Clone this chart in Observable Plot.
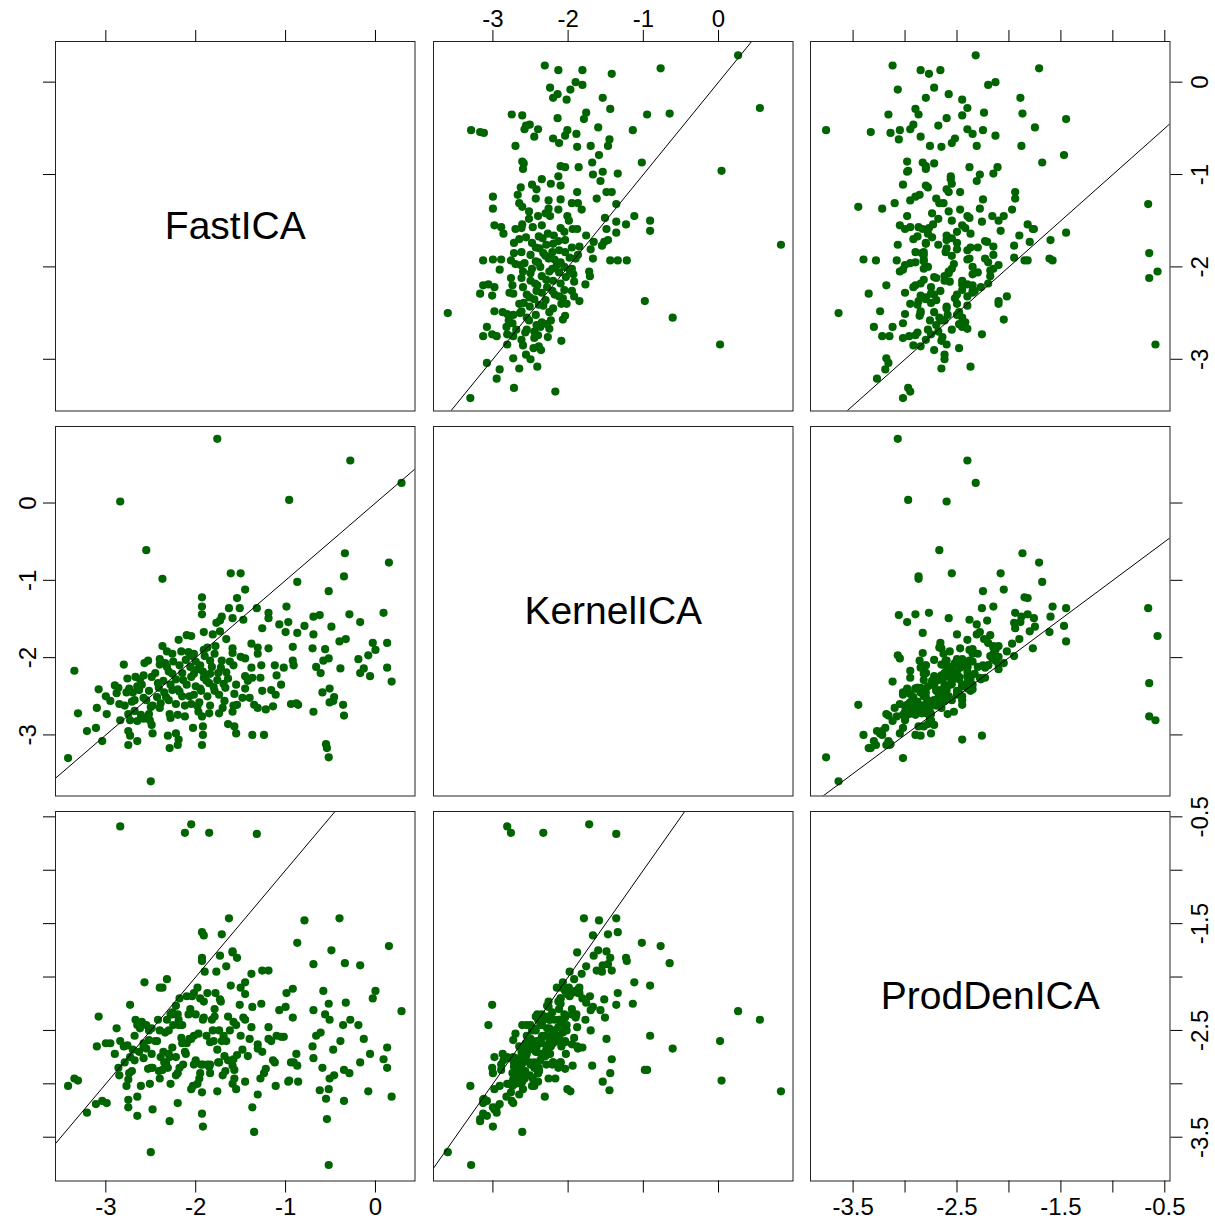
<!DOCTYPE html>
<html><head><meta charset="utf-8">
<script src="https://cdn.jsdelivr.net/npm/d3@7"></script>
<script src="https://cdn.jsdelivr.net/npm/@observablehq/plot@0.6"></script>
<style>
body{margin:0;background:#fff;}
#chart{position:relative;width:1215px;height:1225px;background:#fff;overflow:hidden;}
#chart svg{position:absolute;max-width:none;}
</style></head><body><div id="chart"></div>
<script>
const variables = ["FastICA", "KernelICA", "ProdDenICA"];

const FastICA = [
-1.76,-0.28,0.29,-2.84,-0.96,-2.55,-2.37,-0.34,0.15,-0.35,
-0.87,-0.55,-0.54,-0.52,-2.50,-3.42,-3.35,-3.31,-1.32,-2.05,
-1.85,-2.12,-2.84,-1.35,0.18,-3.21,-3.11,-3.04,-1.61,-1.50,
-1.45,-0.52,-1.93,-1.93,-1.93,-1.63,-1.51,-1.54,-1.71,-1.73,
-1.77,-1.59,-1.47,-1.19,-1.19,-0.99,-0.97,-1.07,-0.69,-0.62,
-0.29,-0.17,0.09,-0.49,-1.26,-1.91,-1.81,-1.73,-1.66,-2.19,
-2.10,-1.00,-0.87,-0.79,-0.69,-1.38,-1.31,-1.19,-0.92,-0.70,
-0.56,-0.40,-0.33,-0.03,0.13,0.00,-0.08,-2.37,-2.32,-2.16,
-2.08,-2.02,-1.91,-1.87,-1.78,-1.59,-1.59,-1.50,-1.45,-1.31,
-2.80,-2.57,-2.53,-2.40,-2.34,-2.18,-2.11,-2.04,-1.95,-1.84,
-1.79,-1.72,-1.66,-1.58,-1.38,-1.27,-1.12,-1.02,-0.92,-0.91,
-0.66,-0.58,-0.52,-0.61,-0.39,-0.19,-0.17,-0.13,-0.06,0.13,
-2.76,-2.67,-2.58,-2.49,-2.30,-2.26,-2.14,-2.02,-1.91,-1.84,
-1.76,-1.69,-1.67,-1.45,-1.42,-1.37,-1.28,-1.10,-1.05,-2.90,
-2.86,-3.08,-2.77,-2.65,-2.63,-2.52,-2.41,-2.26,-2.20,-2.00,
-1.94,-1.79,-1.57,-1.48,-1.26,-1.16,-1.11,-0.94,-0.88,-0.86,
-0.59,-0.51,-0.46,-0.47,-0.51,-0.36,-0.35,-0.69,-2.95,-2.71,
-2.99,-3.10,-2.75,-2.68,-2.61,-2.52,-2.50,-2.43,-2.39,-2.33,
-2.22,-2.29,-2.20,-2.07,-1.98,-1.97,-1.93,-1.85,-1.74,-1.70,
-1.59,-1.54,-1.31,-1.22,-1.14,-2.73,-2.65,-2.51,-2.58,-2.75,
-2.73,-2.75,-2.65,-2.48,-2.49,-2.31,-2.29,-2.22,-2.19,-2.20,
-2.03,-1.92,-1.92,-1.93,-1.64,-1.57,-1.55,-1.37,-1.24,-2.45,
-2.36,-2.28,-2.15,-2.10,-2.05,-1.98,-1.95,-1.88,-1.82,-2.25,
-2.00,-1.90,-1.75,-2.60,-2.70,-2.55,-2.40,-2.30,-2.15,-2.05,
-1.62,-1.55,-2.85,-3.00,-2.32,-2.22,-2.18,-2.12,-2.06,-2.02,
-1.96,-1.92,-1.87,-1.84,-1.80,-1.74,-1.71,-1.68,-1.64,-2.28,
-2.35,-2.42,-2.48,-2.58,-2.62,-2.68,-2.74,-2.79,-2.88,-2.26,
-2.40,-1.58,-1.45,-1.40
];

const KernelICA = [
0.83,0.55,0.26,0.02,0.04,-0.61,-0.98,-0.65,-0.77,-0.95,
-1.02,-3.12,-3.17,-3.29,-3.60,-3.30,-2.17,-2.72,-1.36,-1.72,
-2.33,-2.76,-2.81,-2.61,-2.31,-2.95,-2.91,-3.08,-0.91,-0.91,
-1.12,-1.14,-1.22,-1.34,-1.44,-1.36,-1.36,-1.23,-1.47,-1.52,
-1.55,-1.49,-1.51,-1.42,-1.49,-1.34,-1.54,-1.57,-1.47,-1.45,
-1.44,-1.54,-1.42,-1.60,-1.62,-1.67,-1.70,-1.66,-1.76,-1.77,
-1.71,-1.67,-1.68,-1.59,-1.70,-1.82,-1.87,-1.88,-1.86,-1.88,
-1.89,-1.79,-1.76,-1.81,-1.81,-1.90,-1.97,-1.85,-1.92,-1.92,
-1.93,-1.95,-1.90,-1.87,-1.85,-1.88,-1.94,-1.99,-2.01,-1.95,
-2.09,-2.07,-2.04,-2.09,-2.07,-2.10,-2.03,-1.98,-2.10,-2.04,
-1.95,-2.13,-2.19,-2.10,-2.13,-2.10,-2.10,-2.13,-2.04,-2.10,
-2.12,-2.04,-2.01,-2.20,-2.14,-2.02,-2.20,-2.14,-2.24,-2.13,
-2.27,-2.25,-2.23,-2.25,-2.18,-2.21,-2.29,-2.21,-2.26,-2.21,
-2.29,-2.34,-2.39,-2.24,-2.30,-2.26,-2.26,-2.23,-2.35,-2.36,
-2.39,-2.41,-2.45,-2.37,-2.42,-2.43,-2.39,-2.42,-2.41,-2.37,
-2.43,-2.43,-2.47,-2.52,-2.43,-2.42,-2.48,-2.60,-2.59,-2.61,
-2.45,-2.40,-2.51,-2.56,-2.58,-2.61,-2.75,-2.70,-2.56,-2.57,
-2.73,-2.65,-2.73,-2.69,-2.74,-2.73,-2.64,-2.51,-2.59,-2.51,
-2.60,-2.73,-2.74,-2.50,-2.63,-2.70,-2.76,-2.72,-2.72,-2.65,
-2.70,-2.61,-2.65,-2.67,-2.63,-2.81,-2.82,-2.81,-2.79,-2.95,
-3.01,-3.13,-3.08,-2.98,-2.87,-3.01,-3.17,-2.98,-3.06,-3.13,
-2.91,-2.89,-3.00,-3.13,-2.86,-2.89,-2.98,-3.00,-3.00,-2.20,
-2.30,-2.35,-2.20,-2.35,-2.25,-2.15,-2.40,-2.30,-2.12,-2.05,
-2.05,-1.98,-2.20,-2.35,-2.45,-2.55,-2.65,-2.55,-2.50,-2.60,
-2.05,-2.35,-2.60,-2.50,-2.12,-2.28,-2.44,-2.62,-2.12,-2.48,
-2.58,-2.18,-2.50,-2.62,-2.38,-2.48,-2.04,-2.56,-2.27,-2.78,
-2.45,-2.33,-2.62,-2.52,-2.28,-2.55,-2.40,-2.62,-2.46,-1.95,
-2.02,-2.62,-2.40,-2.52
];

const ProdDenICA = [
-3.07,-2.40,-2.32,-2.60,-2.97,-2.67,-2.87,-1.87,-1.71,-2.87,
-1.68,-3.14,-3.33,-3.76,-3.64,-3.02,-2.95,-2.97,-0.66,-0.57,
-0.65,-0.65,-0.59,-3.45,-3.12,-3.27,-3.19,-3.16,-2.08,-2.55,
-2.05,-2.25,-1.85,-1.58,-1.82,-1.45,-2.26,-1.82,-1.60,-2.21,
-1.95,-1.76,-2.38,-1.94,-2.58,-2.15,-2.98,-2.31,-1.88,-3.06,
-2.90,-1.89,-2.77,-1.75,-1.94,-1.61,-2.50,-1.80,-1.90,-2.40,
-2.18,-2.28,-2.83,-1.47,-2.31,-1.97,-2.67,-2.47,-2.11,-2.65,
-2.35,-1.45,-2.24,-2.20,-2.66,-2.13,-3.07,-2.10,-2.02,-2.57,
-2.35,-2.15,-2.38,-2.15,-2.15,-1.77,-2.83,-2.10,-2.16,-2.63,
-2.65,-2.05,-2.86,-2.10,-2.52,-2.20,-2.72,-2.18,-2.20,-2.61,
-2.30,-2.23,-2.60,-2.42,-2.47,-2.25,-2.80,-2.56,-2.38,-2.80,
-2.55,-2.13,-3.05,-2.52,-2.60,-2.45,-2.80,-2.58,-2.72,-2.85,
-2.64,-2.40,-2.65,-2.48,-2.50,-2.33,-2.82,-2.55,-2.23,-2.82,
-2.68,-2.55,-2.88,-2.40,-2.74,-2.28,-2.95,-2.55,-2.56,-2.72,
-2.85,-2.37,-3.02,-2.45,-2.70,-2.50,-2.88,-2.66,-2.35,-2.78,
-2.82,-2.37,-2.95,-2.68,-2.70,-2.60,-3.02,-2.80,-2.72,-2.98,
-2.85,-2.40,-2.92,-2.68,-2.95,-2.45,-3.16,-2.76,-2.62,-2.88,
-3.18,-2.65,-2.96,-2.78,-3.02,-2.59,-2.85,-2.60,-2.75,-2.80,
-2.92,-2.75,-2.90,-2.58,-3.00,-2.53,-3.08,-2.84,-2.80,-2.92,
-3.00,-2.73,-3.10,-2.86,-2.78,-2.75,-3.12,-3.00,-2.76,-3.22,
-2.26,-3.15,-3.30,-3.24,-2.72,-2.85,-3.35,-2.75,-2.45,-3.18,
-3.02,-2.82,-3.40,-3.28,-2.78,-2.87,-3.05,-3.22,-2.90,-2.60,
-2.70,-2.35,-2.62,-2.62,-2.58,-2.10,-2.90,-2.55,-2.40,-2.45,
-2.35,-1.95,-2.80,-2.42,-2.68,-2.45,-2.95,-2.72,-2.45,-3.05,
-2.50,-2.45,-2.92,-2.62,-2.40,-2.27,-2.85,-2.70,-2.30,-2.82,
-2.95,-2.40,-2.82,-2.90,-2.60,-2.50,-2.60,-2.74,-2.37,-3.00,
-2.80,-2.40,-2.85,-2.62,-2.48,-2.55,-2.90,-2.80,-2.48,-2.35,
-2.50,-2.77,-2.98,-2.58
];

// axis ticks and tick labels
const ticksFastICA = [-3, -2, -1, 0];
const ticksKernelICA = [-3, -2, -1, 0];
const ticksProdDenICA = [-3.5, -3, -2.5, -2, -1.5, -1, -0.5];
const labelsProdDenICA = [-3.5, -2.5, -1.5, -0.5];

// scale limits (data range + 4%)
const limFastICA = [-3.56, 0.44];
const limKernelICA = [-3.79, 0.99];
const limProdDenICA = [-3.91, -0.45];

const rows = FastICA.map((f, i) => ({FastICA: f, KernelICA: KernelICA[i], ProdDenICA: ProdDenICA[i]}));
const ticks = {FastICA: ticksFastICA, KernelICA: ticksKernelICA, ProdDenICA: ticksProdDenICA};
const tickLabels = {FastICA: ticksFastICA, KernelICA: ticksKernelICA, ProdDenICA: labelsProdDenICA};
const domains = {FastICA: limFastICA, KernelICA: limKernelICA, ProdDenICA: limProdDenICA};
const all = [...FastICA, ...KernelICA, ...ProdDenICA];
const ext = d3.extent(all);
const diag = [ext[0] - 2, ext[1] + 2];

const colLeft = [54.5, 432.5, 810];
const rowTop = [40.5, 426, 811];
const W = 359.5, H = 369.5, M = 50;
const FONT = "'Liberation Sans', Arial, Helvetica, sans-serif";
const TF = 24;

const chart = document.getElementById("chart");
const blank = () => "";
const lab = v => d => tickLabels[v].includes(d) ? String(d) : "";

for (let r = 0; r < 3; r++) {
  for (let c = 0; c < 3; c++) {
    const xv = variables[c], yv = variables[r];
    const marks = [];
    if (r === c) {
      marks.push(Plot.text([variables[r]], {frameAnchor: "middle", text: d => d, fontSize: 39, fill: "black"}));
    } else {
      marks.push(Plot.dot(rows, {x: xv, y: yv, r: 4.1, fill: "#006400"}));
      marks.push(Plot.line(diag, {x: d => d, y: d => d, clip: true, stroke: "black", strokeWidth: 1}));
    }
    marks.push(Plot.frame({stroke: "#222", strokeWidth: 1}));
    if (r === 0) marks.push(Plot.axisX(ticks[xv], {anchor: "top", tickSize: 12, tickPadding: 3, tickFormat: c === 1 ? lab(xv) : blank, fontSize: TF, label: null}));
    if (r === 2) marks.push(Plot.axisX(ticks[xv], {anchor: "bottom", tickSize: 12, tickPadding: 5, tickFormat: c !== 1 ? lab(xv) : blank, fontSize: TF, label: null}));
    if (c === 0) {
      marks.push(Plot.axisY(ticks[yv], {anchor: "left", tickSize: 12, tickFormat: blank, label: null}));
      if (r === 1) marks.push(Plot.text(tickLabels[yv], {y: d => d, text: d => String(d), frameAnchor: "left", rotate: -90, dx: -19.5, lineAnchor: "bottom", textAnchor: "middle", fontSize: TF}));
    }
    if (c === 2) {
      marks.push(Plot.axisY(ticks[yv], {anchor: "right", tickSize: 12, tickFormat: blank, label: null}));
      if (r !== 1) marks.push(Plot.text(tickLabels[yv], {y: d => d, text: d => String(d), frameAnchor: "right", rotate: -90, dx: 21, lineAnchor: "top", textAnchor: "middle", fontSize: TF}));
    }
    const svg = Plot.plot({
      width: W + 2 * M, height: H + 2 * M,
      marginLeft: M, marginRight: M, marginTop: M, marginBottom: M,
      x: {domain: domains[xv], axis: null},
      y: {domain: domains[yv], axis: null},
      style: {fontFamily: FONT, background: "transparent", overflow: "visible", color: "black"},
      marks
    });
    svg.style.left = (colLeft[c] - M) + "px";
    svg.style.top = (rowTop[r] - M) + "px";
    svg.style.position = "absolute";
    chart.appendChild(svg);
  }
}
</script>
</body></html>
